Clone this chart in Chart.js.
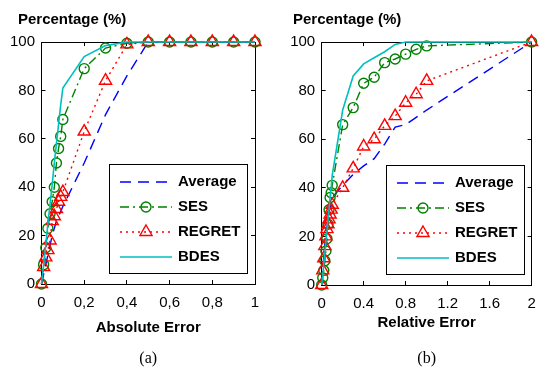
<!DOCTYPE html>
<html>
<head>
<meta charset="utf-8">
<script src="https://cdn.jsdelivr.net/npm/chart.js@4/dist/chart.umd.min.js"></script>
<style>
  html, body { margin: 0; padding: 0; background: #fff; }
  .panel { position: absolute; top: 0; width: 270px; height: 370px; }
</style>
</head>
<body>
<div class="panel" style="left:0"><canvas id="chartA" width="270" height="370"></canvas></div>
<div class="panel" style="left:270px"><canvas id="chartB" width="270" height="370"></canvas></div>
<script>
// (a) absolute error
var errA = [0, 0.01, 0.02, 0.03, 0.04, 0.05, 0.06, 0.07, 0.08, 0.09, 0.1, 0.2, 0.3, 0.4, 0.5, 0.6, 0.7, 0.8, 0.9, 1];
var avgA = [0, 4, 8, 12, 16, 20, 23, 26, 28, 30, 32, 50, 70, 86, 100, 100, 100, 100, 100, 100];
var sesA = [0, 8, 15, 23, 29, 34, 40, 50, 56, 61, 68, 89, 97.5, 99.5, 100, 100, 100, 100, 100, 100];
var regretA = [0, 7, 11, 14, 18, 26, 28, 31, 34, 36, 38, 63, 84, 99, 100, 100, 100, 100, 100, 100];
var bdesA = [0, 8, 16, 25, 33, 41, 50, 58, 66, 74, 81, 94, 98.5, 100, 100, 100, 100, 100, 100, 100];

// (b) relative error
var errB = [0, 0.01, 0.02, 0.03, 0.04, 0.05, 0.06, 0.07, 0.08, 0.09, 0.1, 0.2, 0.3, 0.4, 0.5, 0.6, 0.7, 0.8, 0.9, 1, 2];
var avgB = [0, 6, 12, 17, 21, 24, 27, 30, 32, 34, 36, 41, 45.5, 49, 52, 58, 65, 66, 69, 72, 100];
var sesB = [0, 3, 6, 10, 14, 19, 25, 31, 36, 38, 41, 66, 73, 83, 85.5, 91.5, 93, 95, 97, 98.4, 100];
var regretB = [0, 6, 11, 16, 20, 23, 25, 27, 29, 31, 33, 40, 48, 57, 60, 65.5, 69.5, 75, 78.5, 84, 100];
var bdesB = [0, 4, 9, 13, 18, 22, 27, 31, 36, 40, 45, 72, 86, 91, 93.5, 96, 99, 100, 100, 100, 100];

// ticks
var yTicks = [0, 20, 40, 60, 80, 100];
var yLabels = ['0', '20', '40', '60', '80', '100'];
var xTicksA = [0, 0.2, 0.4, 0.6, 0.8, 1];
var xLabelsA = ['0', '0,2', '0,4', '0,6', '0,8', '1'];
var xTicksB = [0, 0.4, 0.8, 1.2, 1.6, 2];
var xLabelsB = ['0', '0.4', '0.8', '1.2', '1.6', '2'];

Chart.defaults.font.family = '"Liberation Sans", Arial, Helvetica, sans-serif';
Chart.defaults.color = '#000';

function makeDatasets(xs, avg, ses, regret, bdes) {
    function pts(ys) {
        return xs.map(function (x, i) { return { x: x, y: ys[i] }; });
    }
    return [{
        label: 'Average', data: pts(avg), borderColor: '#0000ff', borderWidth: 1.4,
        borderDash: [11, 7], pointRadius: 0, order: 3
    }, {
        label: 'SES', data: pts(ses), borderColor: '#008000', borderWidth: 1.4,
        borderDash: [9, 4, 2, 4], pointStyle: 'circle', pointRadius: 5,
        pointBorderWidth: 1.4, pointBorderColor: '#008000', pointBackgroundColor: 'rgba(0,0,0,0)', order: 2
    }, {
        label: 'REGRET', data: pts(regret), borderColor: '#ff0000', borderWidth: 1.4,
        borderDash: [2, 4], pointStyle: 'triangle', pointRadius: 7,
        pointBorderWidth: 1.4, pointBorderColor: '#ff0000', pointBackgroundColor: 'rgba(0,0,0,0)', order: 1
    }, {
        label: 'BDES', data: pts(bdes), borderColor: '#00bfbf', borderWidth: 1.6,
        pointRadius: 0, order: 0
    }];
}

// y label written horizontally above the axis
var cornerLabel = {
    id: 'cornerLabel',
    afterDraw: function (chart, args, opts) {
        var ctx = chart.ctx;
        ctx.save();
        ctx.fillStyle = '#000';
        ctx.font = 'bold 15px "Liberation Sans", Arial, sans-serif';
        ctx.textAlign = 'left';
        ctx.textBaseline = 'middle';
        ctx.fillText(opts.text, chart.chartArea.left - opts.shift, opts.y);
        ctx.restore();
    }
};

// framed legend in the lower right corner of the plot
var boxLegend = {
    id: 'boxLegend',
    afterDraw: function (chart, args, opts) {
        var ctx = chart.ctx, area = chart.chartArea;
        var x0 = Math.round(area.right - opts.right - opts.width);
        var y0 = Math.round(area.bottom - opts.bottom - opts.height);
        ctx.save();
        ctx.fillStyle = '#fff';
        ctx.fillRect(x0, y0, opts.width, opts.height);
        ctx.strokeStyle = '#000';
        ctx.lineWidth = 1;
        ctx.strokeRect(x0 + 0.5, y0 + 0.5, opts.width, opts.height);
        chart.data.datasets.forEach(function (ds, i) {
            var y = y0 + opts.firstRow + i * opts.rowGap;
            var lx = x0 + 11, rx = lx + 52;
            ctx.save();
            ctx.strokeStyle = ds.borderColor;
            ctx.lineWidth = ds.borderWidth;
            ctx.setLineDash(ds.borderDash || []);
            ctx.beginPath();
            ctx.moveTo(lx, y);
            ctx.lineTo(rx, y);
            ctx.stroke();
            ctx.restore();
            if (ds.pointRadius > 0) {
                ctx.save();
                ctx.strokeStyle = ds.pointBorderColor;
                ctx.fillStyle = 'rgba(0,0,0,0)';
                ctx.lineWidth = ds.pointBorderWidth;
                Chart.helpers.drawPoint(ctx, { pointStyle: ds.pointStyle, rotation: 0, radius: ds.pointRadius, borderWidth: ds.pointBorderWidth }, (lx + rx) / 2, y);
                ctx.restore();
            }
            ctx.fillStyle = '#000';
            ctx.font = 'bold 15px "Liberation Sans", Arial, sans-serif';
            ctx.textAlign = 'left';
            ctx.textBaseline = 'middle';
            ctx.fillText(ds.label, rx + 6, y);
        });
        ctx.restore();
    }
};

function setTicks(values) {
    return function (scale) {
        scale.ticks = values.map(function (v) { return { value: v }; });
    };
}

function buildChart(id, p) {
    var grid = { drawOnChartArea: false, tickLength: -4, color: '#000', lineWidth: 1 };
    var border = { display: true, color: '#000', width: 1 };
    return new Chart(document.getElementById(id), {
        type: 'line',
        data: { datasets: makeDatasets(p.xs, p.avg, p.ses, p.regret, p.bdes) },
        options: {
            responsive: false,
            animation: false,
            elements: { line: { tension: 0 } },
            datasets: { line: { clip: false } },
            layout: { padding: { left: 0, right: p.padRight, top: 42, bottom: 0 } },
            plugins: {
                legend: { display: false },
                tooltip: { enabled: false },
                title: { display: false },
                subtitle: {
                    display: true, text: p.caption, position: 'bottom', fullSize: false, color: '#000',
                    font: { family: '"Liberation Serif", "Times New Roman", serif', size: 16 },
                    padding: { top: 0, bottom: 2 }
                },
                cornerLabel: { text: 'Percentage (%)', shift: p.labelShift, y: 20 },
                boxLegend: { width: 138, height: 109, right: 8, bottom: 11, firstRow: 18, rowGap: 25 }
            },
            scales: {
                x: {
                    type: 'linear', position: 'bottom', min: 0, max: p.xMax,
                    afterBuildTicks: setTicks(p.xTicks),
                    afterFit: function (s) { s.height = p.xHeight; s.paddingLeft = 0; s.paddingRight = 0; },
                    ticks: {
                        callback: function (v, i) { return p.xLabels[i]; },
                        padding: 14, font: { size: 15 }, color: '#000', maxRotation: 0, autoSkip: false
                    },
                    grid: grid,
                    border: border,
                    title: {
                        display: true, text: p.xTitle, color: '#000',
                        font: { size: 15, weight: 'bold' }, padding: { top: 0, bottom: p.xTitlePad }
                    }
                },
                x2: {
                    type: 'linear', position: 'top', min: 0, max: p.xMax,
                    afterBuildTicks: setTicks(p.xTicks),
                    afterFit: function (s) { s.height = 0; s.paddingLeft = 0; s.paddingRight = 0; },
                    ticks: { display: false },
                    grid: grid,
                    border: border
                },
                y: {
                    type: 'linear', position: 'left', min: 0, max: 100,
                    afterBuildTicks: setTicks(yTicks),
                    afterFit: function (s) { s.width = p.yWidth; s.paddingTop = 0; s.paddingBottom = 0; },
                    ticks: {
                        callback: function (v, i) { return yLabels[i]; },
                        padding: 10.5, font: { size: 15 }, color: '#000'
                    },
                    grid: grid,
                    border: border
                },
                y2: {
                    type: 'linear', position: 'right', min: 0, max: 100,
                    afterBuildTicks: setTicks(yTicks),
                    afterFit: function (s) { s.width = 0; s.paddingTop = 0; s.paddingBottom = 0; },
                    ticks: { display: false },
                    grid: grid,
                    border: border
                }
            }
        },
        plugins: [cornerLabel, boxLegend]
    });
}

buildChart('chartA', {
    xs: errA, avg: avgA, ses: sesA, regret: regretA, bdes: bdesA,
    xMax: 1, xTicks: xTicksA, xLabels: xLabelsA, xTitle: 'Absolute Error', caption: '(a)',
    padRight: 15, yWidth: 41.5, labelShift: 23.5, xHeight: 64.8, xTitlePad: 11.8
});

buildChart('chartB', {
    xs: errB, avg: avgB, ses: sesB, regret: regretB, bdes: bdesB,
    xMax: 2, xTicks: xTicksB, xLabels: xLabelsB, xTitle: 'Relative Error', caption: '(b)',
    padRight: 4.3, yWidth: 51.7, labelShift: 28.7, xHeight: 63.8, xTitlePad: 17
});
</script>
</body>
</html>
